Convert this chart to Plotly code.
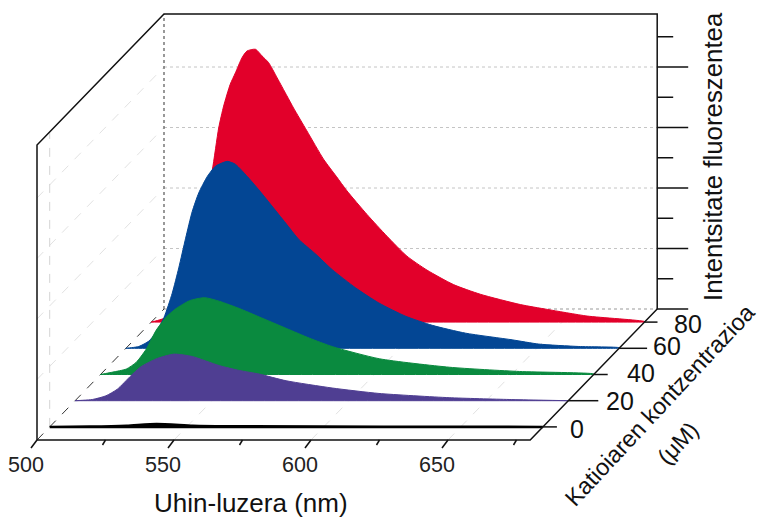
import plotly.graph_objects as go

WL_80 = [500,505.1,509.9,514.2,517.9,522.2,524.6,526.4,528.8,530.7,533.1,534.9,538,540.4,542.8,545.9,549.5,551.9,556.8,562.9,567.5,571.4,578.7,586,593.3,600.6,610.3,620.1,634.7,644.5,659.1,680]
INT_80 = [0,7,26,84,167,250,321,357,393,412,437,448,451,440,429,404,374,354,316,269,241,217,178,142,109,86,62,46,29,21,10,1]
WL_60 = [500,504.7,508.4,510.8,513.9,516.9,519.3,521.8,524.2,526.6,529.7,532.7,537,540,544.3,548.5,552.8,558.3,563.1,569.2,575.3,583.8,592.3,602.1,611.8,624,641,650.7,665.3,680]
INT_60 = [0,3,12,25,51,91,133,182,226,257,284,301,309,304,284,262,238,207,180,156,130,100,75,53,38,25,14,7,3,1]
WL_40 = [500,504.5,509.4,513,516.7,520.3,524,527.6,532.5,538,543.4,550.7,558,567.9,576.3,584.7,601.8,627.4,652.9,680]
INT_40 = [0,4,9,20,42,73,95,109,122,127,121,109,95,76,60,46,26,12,5,1]
WL_20 = [500,506.3,511.2,515.4,520.3,524,529.5,536.1,542.8,552.6,559.9,567.2,577,593.8,610.9,636.5,658.4,680]
INT_20 = [0,2,8,19,41,56,69,77,73,58,50,44,33,21,12,5,2,0]
WL_0 = [500,514.6,528.1,539,552.2,564.6,680]
INT_0 = [0,0.5,2,5,2,1,0]

SERIES = [
    (80, WL_80, INT_80, "#E2002A"),
    (60, WL_60, INT_60, "#034694"),
    (40, WL_40, INT_40, "#0A8A3F"),
    (20, WL_20, INT_20, "#4F3E92"),
    (0, WL_0, INT_0, "#000000"),
]
WL_TICKS = [500, 525, 550, 575, 600, 625, 650, 675]
WL_LABELS = ["500", "", "550", "", "600", "", "650", ""]
C_TICKS = [0, 20, 40, 60, 80]
C_LABELS = ["0", "20", "40", "60", "80"]
Z_TICKS = [0, 50, 100, 150, 200, 250, 300, 350, 400, 450]

FONT = "Liberation Sans, Arial, sans-serif"
WL_MIN, WL_MAX, C_MIN, C_MAX, Z_MAX = 500, 680, -10, 90, 487.6


def px(w, c, z=0):
    return 37 + (w - 500) * 2.74 + (c + 10) * 1.27


def py(w, c, z=0):
    return 440 - (c + 10) * 1.31 - z * 0.605


fig = go.Figure()


def seg(pts, color="#000", width=1.5, dash="solid"):
    fig.add_trace(go.Scatter(
        x=[px(*p) for p in pts], y=[py(*p) for p in pts], mode="lines",
        line=dict(color=color, width=width, dash=dash), hoverinfo="skip", showlegend=False))


# grid
for z in [100, 200, 300, 400]:
    seg([(WL_MIN, C_MAX, z), (WL_MAX, C_MAX, z)], "#c4c4c4", 1, "dot")
    seg([(WL_MIN, C_MIN, z), (WL_MIN, C_MAX, z)], "#e2e2e2", 1, "dash")
seg([(WL_MIN, C_MAX, 0), (WL_MAX, C_MAX, 0)], "#999999", 1, "dot")
seg([(WL_MIN, 0, 0), (WL_MIN, 0, Z_MAX)], "#d4d4d4", 1, "dash")
for w in [550, 600, 650]:
    seg([(w, C_MIN, 0), (w, C_MAX, 0)], "#e2e2e2", 1, "dash")
seg([(WL_MIN, C_MAX, 0), (WL_MIN, C_MAX, Z_MAX)], "#555555", 1.2, "dot")
seg([(WL_MIN, C_MIN, 0), (WL_MIN, C_MAX, 0)], "#333333", 1, "dash")

# spectra
for c, wl, inten, color in SERIES:
    xs = [px(w, c, i) for w, i in zip(wl, inten)]
    ys = [py(w, c, i) for w, i in zip(wl, inten)]
    x1, y1, x0, y0 = px(wl[-1], c), py(wl[-1], c), px(wl[0], c), py(wl[0], c)
    xs = [x0 - 0.01] + xs + [x1, x1 - 0.01, x0 + 0.01, x0]
    ys = [y0] + ys + [y1, y1, y0, y0]
    fig.add_trace(go.Scatter(x=xs, y=ys, mode="lines", fill="toself", fillcolor=color,
                             line=dict(color=color, width=2.5 if c == 0 else 1, shape="spline", smoothing=0.6),
                             hoverinfo="skip", showlegend=False))

# frame
seg([(WL_MIN, C_MIN, 0), (WL_MIN, C_MIN, Z_MAX), (WL_MIN, C_MAX, Z_MAX),
     (WL_MAX, C_MAX, Z_MAX), (WL_MAX, C_MAX, 0), (WL_MAX, C_MIN, 0), (WL_MIN, C_MIN, 0)], "#111", 1.5)

# wavelength ticks
for w, lab in zip(WL_TICKS, WL_LABELS):
    x0, y0 = px(w, C_MIN), py(w, C_MIN)
    dx, dy = (-6, 8) if lab else (-3, 5)
    fig.add_trace(go.Scatter(x=[x0, x0 + dx], y=[y0, y0 + dy], mode="lines",
                             line=dict(color="#111", width=1.5), hoverinfo="skip", showlegend=False))
    if lab:
        fig.add_annotation(x=x0 - 11, y=464.5, text=lab, showarrow=False, font=dict(size=21.5, color="#222", family=FONT))

# concentration ticks
for c, lab, ln, ox, oy in zip(C_TICKS, C_LABELS, [14, 30, 14, 28, 13], [34, 52, 47, 48, 43], [2, 0, -2, -2, 2]):
    x0, y0 = px(WL_MAX, c), py(WL_MAX, c)
    fig.add_trace(go.Scatter(x=[x0, x0 + ln], y=[y0, y0], mode="lines",
                             line=dict(color="#111", width=1.5), hoverinfo="skip", showlegend=False))
    fig.add_annotation(x=x0 + ox, y=y0 + oy, text=lab, showarrow=False,
                       font=dict(size=25, color="#111", family=FONT))

# intensity ticks
for z in Z_TICKS:
    x0, y0 = px(WL_MAX, C_MAX), py(WL_MAX, C_MAX, z)
    ln = 31 if z % 100 == 0 else 16
    fig.add_trace(go.Scatter(x=[x0, x0 + ln], y=[y0, y0], mode="lines",
                             line=dict(color="#111", width=1.5), hoverinfo="skip", showlegend=False))

# titles
fig.add_annotation(x=251, y=503, text="Uhin-luzera (nm)", showarrow=False, font=dict(size=26, color="#111", family=FONT))
fig.add_annotation(x=713, y=157, text="Intentsitate fluoreszentea", textangle=-90, showarrow=False,
                   font=dict(size=25.8, color="#111", family=FONT))
fig.add_annotation(x=660, y=405, text="Katioiaren kontzentrazioa", textangle=-47, showarrow=False,
                   font=dict(size=23.5, color="#111", family=FONT))
fig.add_annotation(x=678, y=443, text="(μM)", textangle=-47, showarrow=False,
                   font=dict(size=23, color="#111", family=FONT))

fig.update_layout(
    width=759, height=518, margin=dict(l=0, r=0, t=0, b=0),
    paper_bgcolor="white", plot_bgcolor="white", showlegend=False,
    xaxis=dict(range=[0, 759], visible=False, fixedrange=True),
    yaxis=dict(range=[518, 0], visible=False, fixedrange=True),
)
fig.write_html("out.html", config=dict(displayModeBar=False),
               post_script="document.body.style.margin='0';document.documentElement.style.overflow='hidden';")
